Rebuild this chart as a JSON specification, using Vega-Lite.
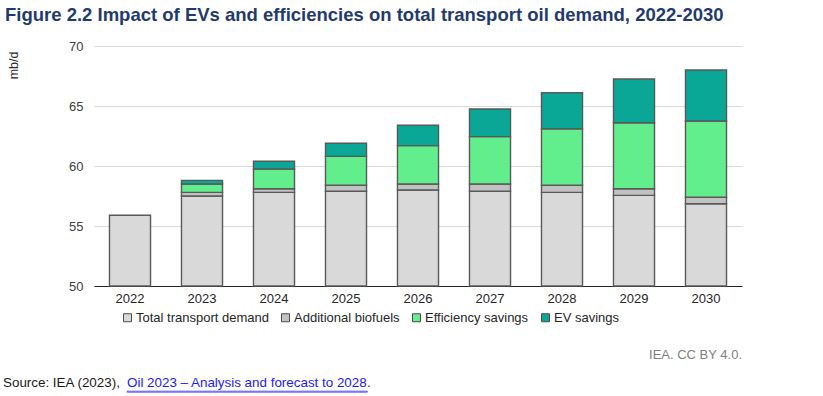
{
  "$schema": "https://vega.github.io/schema/vega-lite/v6.json",
  "padding": {"left": 3, "top": 5, "right": 5, "bottom": 5},
  "background": "white",
  "title": {
    "text": "Figure 2.2  Impact of EVs and efficiencies on total transport oil demand, 2022-2030",
    "anchor": "start",
    "frame": "bounds",
    "dx": 2,
    "font": "Liberation Sans",
    "fontSize": 18.5,
    "fontWeight": "bold",
    "color": "#1f3b6e",
    "offset": 16
  },
  "config": {
    "view": {"stroke": null},
    "font": "Liberation Sans"
  },
  "spacing": 13,
  "vconcat": [
    {
      "width": 648,
      "height": 240,
      "title": {
        "text": "IEA. CC BY 4.0.",
        "orient": "bottom",
        "anchor": "end",
        "font": "Liberation Sans",
        "fontSize": 13,
        "fontWeight": "normal",
        "color": "#808080",
        "offset": 44
      },
      "data": {
        "values": [
          {"year": "2022", "series": "Total transport demand", "value": 55.9},
          {"year": "2023", "series": "Total transport demand", "value": 57.5},
          {"year": "2023", "series": "Additional biofuels", "value": 0.3},
          {"year": "2023", "series": "Efficiency savings", "value": 0.7},
          {"year": "2023", "series": "EV savings", "value": 0.3},
          {"year": "2024", "series": "Total transport demand", "value": 57.8},
          {"year": "2024", "series": "Additional biofuels", "value": 0.3},
          {"year": "2024", "series": "Efficiency savings", "value": 1.65},
          {"year": "2024", "series": "EV savings", "value": 0.65},
          {"year": "2025", "series": "Total transport demand", "value": 57.9},
          {"year": "2025", "series": "Additional biofuels", "value": 0.5},
          {"year": "2025", "series": "Efficiency savings", "value": 2.4},
          {"year": "2025", "series": "EV savings", "value": 1.1},
          {"year": "2026", "series": "Total transport demand", "value": 58.0},
          {"year": "2026", "series": "Additional biofuels", "value": 0.5},
          {"year": "2026", "series": "Efficiency savings", "value": 3.2},
          {"year": "2026", "series": "EV savings", "value": 1.7},
          {"year": "2027", "series": "Total transport demand", "value": 57.9},
          {"year": "2027", "series": "Additional biofuels", "value": 0.6},
          {"year": "2027", "series": "Efficiency savings", "value": 3.95},
          {"year": "2027", "series": "EV savings", "value": 2.3},
          {"year": "2028", "series": "Total transport demand", "value": 57.8},
          {"year": "2028", "series": "Additional biofuels", "value": 0.6},
          {"year": "2028", "series": "Efficiency savings", "value": 4.7},
          {"year": "2028", "series": "EV savings", "value": 3.0},
          {"year": "2029", "series": "Total transport demand", "value": 57.55},
          {"year": "2029", "series": "Additional biofuels", "value": 0.55},
          {"year": "2029", "series": "Efficiency savings", "value": 5.5},
          {"year": "2029", "series": "EV savings", "value": 3.65},
          {"year": "2030", "series": "Total transport demand", "value": 56.85},
          {"year": "2030", "series": "Additional biofuels", "value": 0.55},
          {"year": "2030", "series": "Efficiency savings", "value": 6.35},
          {"year": "2030", "series": "EV savings", "value": 4.25}
        ]
      },
      "transform": [
        {"calculate": "indexof(['Total transport demand','Additional biofuels','Efficiency savings','EV savings'], datum.series)", "as": "stackOrder"}
      ],
      "mark": {"type": "bar", "stroke": "#595959", "strokeWidth": 1.4},
      "encoding": {
        "x": {
          "field": "year",
          "type": "ordinal",
          "scale": {"paddingInner": 0.43, "paddingOuter": 0.215},
          "axis": {
            "title": null,
            "labelAngle": 0,
            "labelFontSize": 13,
            "labelColor": "#262626",
            "labelPadding": 6,
            "ticks": false,
            "domainColor": "#262626",
            "domainWidth": 1
          }
        },
        "y": {
          "field": "value",
          "type": "quantitative",
          "stack": "zero",
          "scale": {"domain": [50, 70], "clamp": true, "nice": false, "zero": false},
          "axis": {
            "title": "mb/d",
            "titleFontSize": 12.5,
            "titleFontWeight": "normal",
            "titleColor": "#262626",
            "titleAnchor": "end",
            "titleY": 5,
            "titlePadding": 48,
            "values": [50, 55, 60, 65, 70],
            "labelFontSize": 13,
            "labelColor": "#404040",
            "labelPadding": 11,
            "ticks": false,
            "domain": false,
            "gridColor": "#d9d9d9",
            "gridWidth": 1
          }
        },
        "color": {
          "field": "series",
          "type": "nominal",
          "scale": {
            "domain": ["Total transport demand", "Additional biofuels", "Efficiency savings", "EV savings"],
            "range": ["#d9d9d9", "#c2c2c2", "#63ee8d", "#0aa796"]
          },
          "legend": {
            "title": null,
            "orient": "none",
            "direction": "horizontal",
            "legendX": 27,
            "legendY": 265,
            "symbolType": "square",
            "symbolSize": 64,
            "symbolStrokeColor": "#4d4d4d",
            "symbolStrokeWidth": 1,
            "symbolOpacity": 1,
            "labelFontSize": 13,
            "labelColor": "#262626",
            "labelOffset": 2,
            "columnPadding": 10
          }
        },
        "order": {"field": "stackOrder", "type": "quantitative"}
      }
    },
    {
      "spacing": 0,
      "bounds": "flush",
      "hconcat": [
        {
          "width": 33,
          "height": 1,
          "title": {
            "text": "Source: IEA (2023), ",
            "anchor": "start",
            "dx": -91,
            "font": "Liberation Sans",
            "fontSize": 13.4,
            "fontWeight": "normal",
            "color": "#1a1a1a",
            "offset": -4
          },
          "data": {"values": [{"t": ""}]},
          "mark": "text",
          "encoding": {"text": {"field": "t"}}
        },
        {
          "width": 240,
          "height": 1,
          "view": {"stroke": "#1a1aff", "strokeWidth": 0.7},
          "title": {
            "text": "Oil 2023 – Analysis and forecast to 2028",
            "anchor": "start",
            "font": "Liberation Sans",
            "fontSize": 13.4,
            "fontWeight": "normal",
            "color": "#1a1aff",
            "offset": -4
          },
          "data": {"values": [{"t": ""}]},
          "mark": "text",
          "encoding": {"text": {"field": "t"}}
        },
        {
          "width": 1,
          "height": 1,
          "title": {
            "text": ".",
            "anchor": "start",
            "font": "Liberation Sans",
            "fontSize": 13.4,
            "fontWeight": "normal",
            "color": "#1a1a1a",
            "offset": -4
          },
          "data": {"values": [{"t": ""}]},
          "mark": "text",
          "encoding": {"text": {"field": "t"}}
        }
      ]
    }
  ]
}
